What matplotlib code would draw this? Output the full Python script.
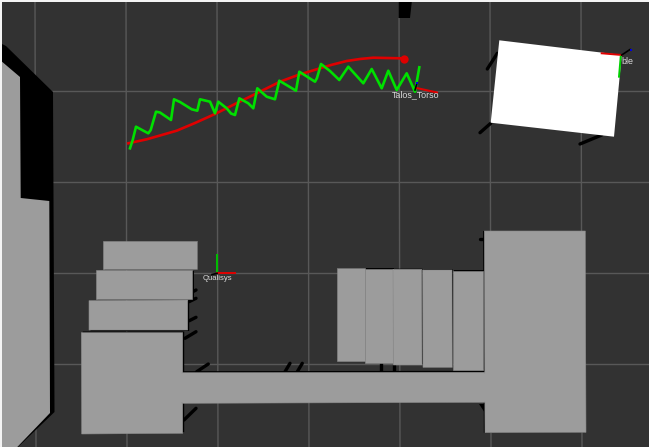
import matplotlib
matplotlib.use('Agg')
import matplotlib.pyplot as plt
from matplotlib.patches import Polygon

# everything in pixel coordinates (x, y from top left)
grid_x = [35, 126, 217, 308, 399, 490, 581]
grid_y = [91, 182, 273, 364]

wall_black = [(0, 43), (6, 46), (53, 92), (54.5, 412), (18, 447), (0, 447)]
wall_gray = [(0, 60), (20, 77), (20.7, 198), (49.3, 201), (50, 413), (17.3, 447), (0, 447)]

top_block = [(398.5, 0), (412, 0), (410, 18), (398.5, 18)]

table = [(499.3, 40.3), (621.7, 55), (614, 136.7), (490.7, 122.7)]
table_legs_x = [(497.3, 487.3), (490.7, 480), (601.7, 580)]
table_legs_y = [(53.3, 69), (123.3, 132.7), (135, 144)]

left_boxes = [
    [(103.3, 241), (196.7, 241), (196.7, 269), (103.3, 269)],
    [(96, 270), (192.3, 270), (192.3, 299), (96, 299)],
    [(89, 300.7), (187.7, 300), (187.7, 330), (89, 330)],
]
big_box = [(81.3, 332.7), (182.7, 332.7), (182.7, 433.3), (81.7, 434)]
right_boxes = [
    [(337, 268.3), (364.7, 268.3), (364.7, 361), (337.3, 361)],
    [(364.7, 268.7), (392.7, 268.7), (392.7, 363), (364.7, 363)],
    [(393, 269.3), (421.7, 269.3), (422, 365), (393.3, 365)],
    [(422.7, 270), (452, 270), (452.3, 367.3), (423, 367.3)],
    [(453, 271), (483.3, 271), (483.3, 369.7), (453.3, 369.7)],
]
corridor = [(182, 372.7), (485, 372.3), (485, 402.3), (182, 403.3)]
end_block = [(484.3, 231), (585.3, 231), (586, 432.3), (485, 432.7)]

legs_x = [(208.3, 196.7), (290, 285), (302.3, 297.3), (196, 184), (196, 185),
          (196, 189.3), (196, 189), (196, 192.7), (381, 381), (394, 394), (479.5, 483.5)]
legs_y = [(364, 371.7), (363.3, 371.7), (363.3, 371.7), (408.3, 420), (331.7, 338.3),
          (317.3, 320.7), (298.3, 301.7), (290, 291.7), (363, 371), (365, 371), (239, 239)]

# end effector reference and tracked path
red_x = [128.3, 146.7, 160, 176.7, 195, 215, 235, 253.3, 280, 298, 316.7, 331, 346.7, 360, 373.3, 400]
red_y = [143.3, 139.3, 135.5, 130.7, 123, 114, 104, 95, 81.7, 75, 69.3, 65, 61, 59, 57.7, 58.3]
green_x = [130, 132.7, 136, 143, 148.3, 150.7, 156, 160, 171, 174, 180, 191.7, 197.3, 200, 210, 215,
           218.3, 226.7, 231, 235, 239.3, 248.3, 253.3, 257.3, 266.7, 275, 279.3, 296, 299.3,
           315, 317, 321, 330, 339.3, 348.3, 363.3, 371.7, 381.7, 388.3, 396.7, 406.7, 415, 419.3]
green_y = [148.3, 140, 126.7, 130.5, 133.3, 130, 111.7, 112.5, 120, 99.3, 102, 109.3, 110.7, 99.3, 101.7, 113.3,
           101.7, 108.3, 113.5, 115, 98.3, 103.3, 108.3, 88.3, 96.7, 99.3, 80.7, 90.7, 71.7,
           81.7, 78, 64, 71, 80, 66.7, 83.3, 69, 88.3, 70.7, 90, 73.3, 91.7, 67.3]

fig = plt.figure(figsize=(6.49, 4.47), dpi=100, facecolor='#323232')
ax = fig.add_axes([0, 0, 1, 1])
ax.set_xlim(0, 649)
ax.set_ylim(447, 0)
ax.axis('off')

for x in grid_x:
    ax.plot([x, x + 1], [0, 447], color='#585858', lw=1.0, zorder=1)
for y in grid_y:
    ax.plot([0, 649], [y, y], color='#585858', lw=1.0, zorder=1)

ax.add_patch(Polygon(wall_black, fc='black', ec='none', zorder=2))
ax.add_patch(Polygon(wall_gray, fc='#9c9c9c', ec='none', zorder=3))
ax.add_patch(Polygon(top_block, fc='black', ec='none', zorder=2))

# legs stick out behind the boxes
for lx, ly in zip(table_legs_x + legs_x, table_legs_y + legs_y):
    ax.plot(lx, ly, color='black', lw=2.4, zorder=2, solid_capstyle='round')
ax.add_patch(Polygon([(479, 404), (485, 404), (485, 413)], fc='black', ec='none', zorder=2))

ax.add_patch(Polygon(table, fc='white', ec='none', zorder=3))

# black edges only show on some sides of each block
shifted = [(left_boxes, 1.5, 1.0), ([big_box], 1.5, -1.2), (right_boxes, 0.8, -0.6),
           ([corridor], 0, -1.5), ([end_block], -1.2, 0)]
for boxes, dx, dy in shifted:
    for box in boxes:
        ax.add_patch(Polygon([(px + dx, py + dy) for px, py in box], fc='black', ec='none', zorder=2))
for box in left_boxes + [big_box] + right_boxes + [corridor, end_block]:
    ax.add_patch(Polygon(box, fc='#9c9c9c', ec='#8a8a8a', lw=0.4, zorder=3))
# corridor joins the two big blocks without a seam
ax.add_patch(Polygon([(180, 373.5), (488, 373.5), (488, 401.5), (180, 402)], fc='#9c9c9c', ec='none', zorder=4))

ax.plot(red_x, red_y, color='#e00000', lw=1.9, zorder=5)
ax.plot(green_x, green_y, color='#00e000', lw=1.9, zorder=6, solid_joinstyle='round')
ax.plot([403.5], [58.5], 'o', color='#dd0000', ms=6, mew=0, zorder=7)

# Talos_Torso frame
ax.plot([416.5, 437], [88, 92.5], color='#e00000', lw=1.5, zorder=7)
ax.plot([415, 417], [90, 83], color='black', lw=1.2, zorder=7)
ax.plot([417], [83], 's', color='#0000e0', ms=1.5, mew=0, zorder=8)
ax.text(415.7, 94.5, 'Talos_Torso', color='#dcdcdc', fontsize=6.4, family='Liberation Sans',
        ha='center', va='center', zorder=9)

# table frame
ax.plot([621.7, 601.7], [55, 53.3], color='#e00000', lw=1.4, zorder=7)
ax.plot([620.7, 619], [56.7, 76.7], color='#00d000', lw=1.4, zorder=7)
ax.plot([621.7, 630], [55, 49.5], color='black', lw=1.2, zorder=7)
ax.plot([630.5], [49.5], 's', color='#0000e0', ms=1.5, mew=0, zorder=8)
ax.text(627, 61.3, 'ble', color='#dcdcdc', fontsize=6.4, family='Liberation Sans',
        ha='center', va='center', zorder=9)

# Qualisys frame
ax.plot([217, 217], [255, 273.3], color='#00c000', lw=1.4, zorder=7)
ax.plot([217, 235], [273.3, 273.3], color='#e00000', lw=1.4, zorder=7)
ax.plot([212, 217], [274.5, 273.3], color='black', lw=1.2, zorder=7)
ax.text(217.3, 278, 'Qualisys', color='#dcdcdc', fontsize=5.5, family='Liberation Sans',
        ha='center', va='center', zorder=9)

# pale screenshot edge along the top and left
ax.axhspan(0, 1.5, color='#f4f4f4', lw=0, zorder=10)
ax.axvspan(0, 1.5, color='#f4f4f4', lw=0, zorder=10)

fig.savefig('out.png', dpi=100, facecolor=fig.get_facecolor())
